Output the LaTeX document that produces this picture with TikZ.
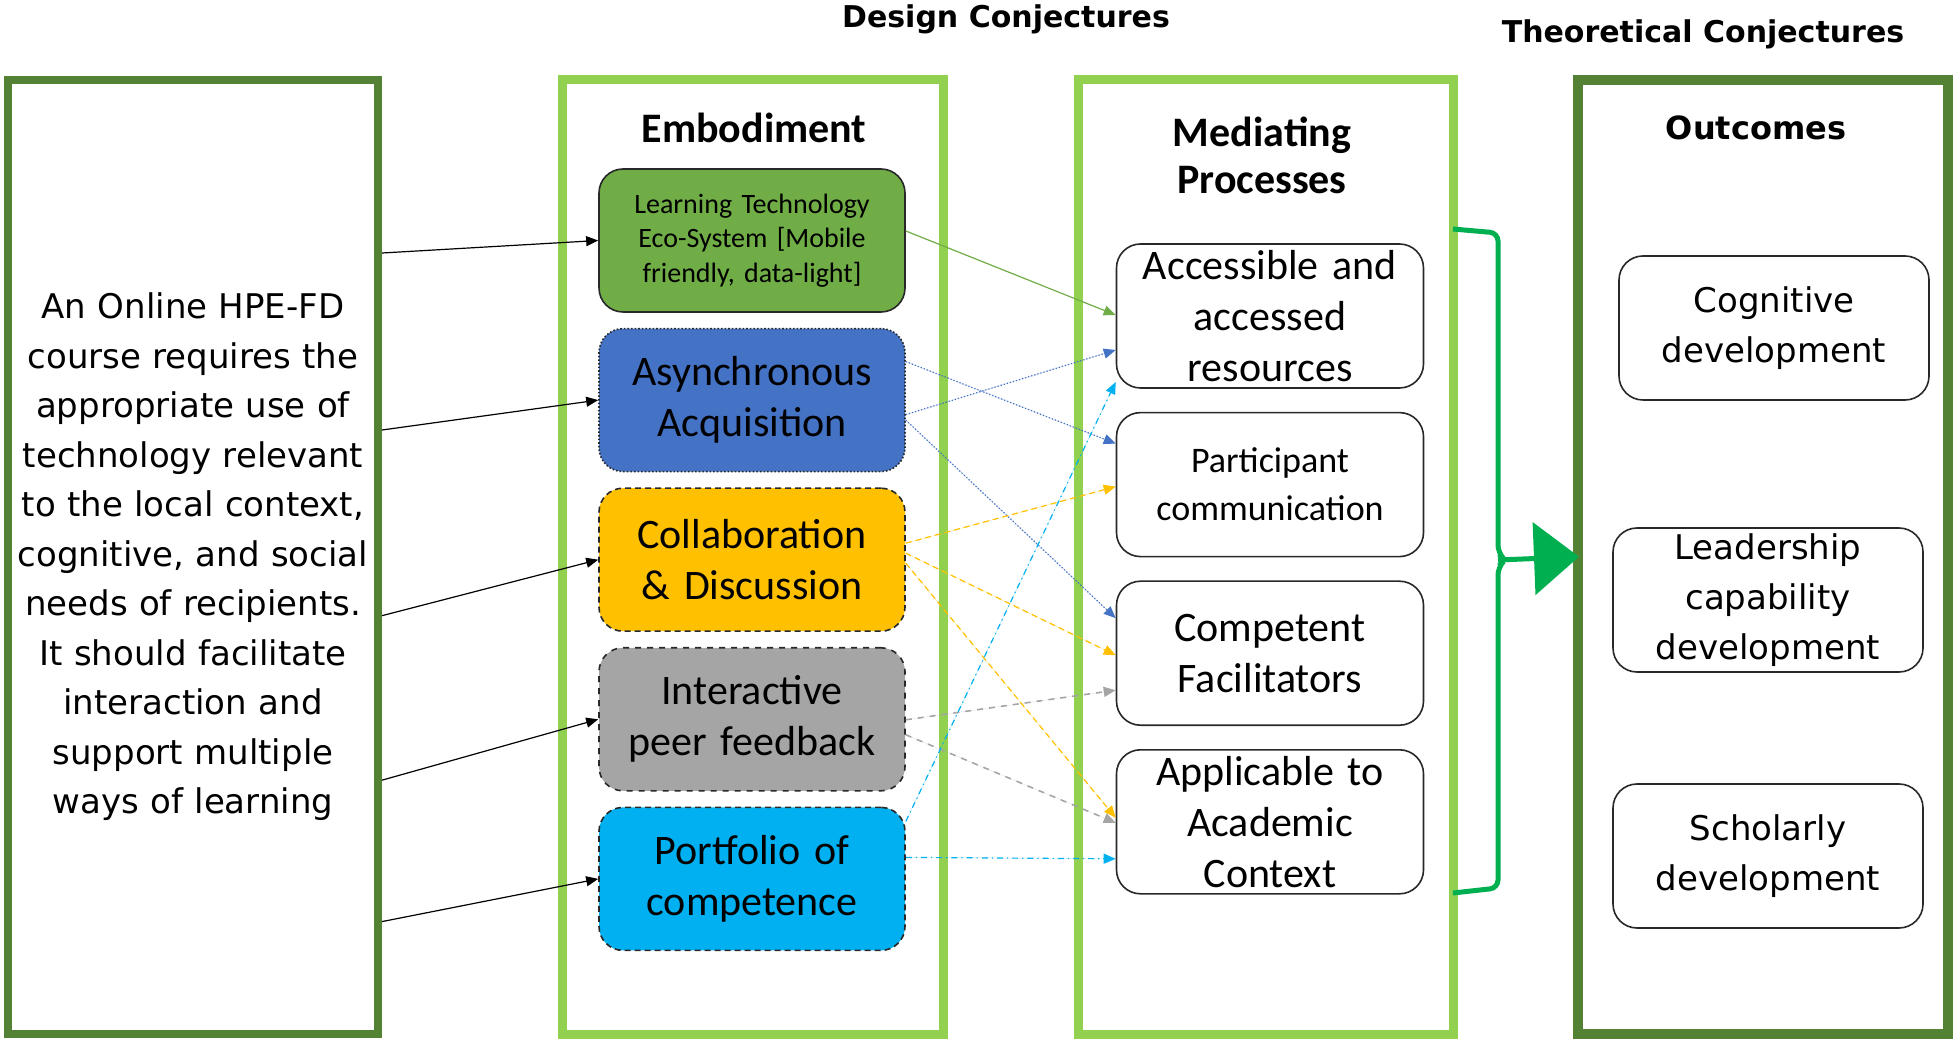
\documentclass[tikz,border=0pt]{standalone}
\usepackage{fontspec}
\setmainfont{Carlito}
\newfontfamily\verd{DejaVu Sans}
\usetikzlibrary{arrows.meta,positioning,calc}
\definecolor{colgreen}{RGB}{146,208,80}
\definecolor{darkgreen}{RGB}{84,130,53}
\definecolor{ltgreen}{RGB}{112,173,71}
\definecolor{ablue}{RGB}{68,114,196}
\definecolor{agold}{RGB}{255,192,0}
\definecolor{agray}{RGB}{165,165,165}
\definecolor{acyan}{RGB}{0,176,240}
\definecolor{bgreen}{RGB}{0,176,80}
\definecolor{edge}{RGB}{40,40,40}
\tikzset{
  frame/.style={draw=darkgreen, line width=4pt, fill=white, inner sep=0pt, align=center},
  colframe/.style={draw=colgreen, line width=4.5pt, minimum height=477pt, inner sep=0pt},
  ebox/.style={draw=edge, line width=0.8pt, rounded corners=12pt, minimum width=153pt, minimum height=71.5pt,
               text width=148pt, align=center, inner sep=0pt, font=\fontsize{21}{25.5}\selectfont},
  mbox/.style={ebox, minimum width=153.5pt, minimum height=72pt, fill=white},
  obox/.style={ebox, minimum width=155pt, minimum height=72pt, font=\verd\fontsize{17}{25}\selectfont},
  head/.style={align=center, font=\bfseries\fontsize{21}{23.5}\selectfont},
  title/.style={font=\verd\bfseries\fontsize{15}{18}\selectfont},
  arr/.style={-{Triangle[length=6pt,width=5pt]}, line width=0.6pt},
  garr/.style={arr, draw=ltgreen, fill=ltgreen},
  barr/.style={arr, draw=ablue, fill=ablue, densely dotted},
  yarr/.style={arr, draw=agold, fill=agold, densely dashed},
  karr/.style={arr, draw=agray, fill=agray, dashed, line width=0.8pt},
  carr/.style={arr, draw=acyan, fill=acyan, dash dot},
  brace/.style={draw=bgreen, line width=2.5pt, rounded corners=4pt},
  bigarr/.style={-{Triangle[length=22.5pt,width=36pt]}, draw=bgreen, fill=bgreen, line width=2.5pt, shorten >=-3pt}
}
\begin{document}
\begin{tikzpicture}[x=0.5pt, y=-0.5pt, node distance=7.5pt]
\useasboundingbox (0,0) rectangle (1960,1042);
% titles
\node[title] (design) at (1006,19) {Design Conjectures};
\node[title] (theory) at (1703,34) {Theoretical Conjectures};
% frames
\node[frame, minimum width=185pt, minimum height=477pt, text width=178pt,
      font=\verd\fontsize{17}{24.75}\selectfont] (intro) at (193,557)
  {An Online HPE-FD\\ course requires the\\ appropriate use of\\ technology relevant\\ to the local context,\\
   cognitive, and social\\ needs of recipients.\\ It should facilitate\\ interaction and\\ support multiple\\ ways of learning};
\node[colframe, minimum width=190.5pt] (embcol) at (752.5,557) {};
\node[colframe, minimum width=187.5pt] (medcol) at (1265.5,557) {};
\node[frame, line width=5pt, minimum width=185pt, minimum height=477pt] (outcol) at (1763,557) {};
% headers
\node[head] (embhead) at (754,128) {Embodiment};
\node[head] (medhead) at (1262,155) {Mediating\\Processes};
\node[title, font=\verd\bfseries\fontsize{16}{19}\selectfont] (outhead) at (1756,128) {Outcomes};
% embodiment
\node[ebox, fill=ltgreen, font=\fontsize{14}{17.4}\selectfont] (tech) at (752,240.5) {Learning Technology\\Eco-System [Mobile\\friendly, data-light]};
\node[ebox, fill=ablue, densely dotted, below=of tech] (async) {Asynchronous\\Acquisition};
\node[ebox, fill=agold, densely dashed, below=of async] (collab) {Collaboration\\\& Discussion};
\node[ebox, fill=agray, dashed, below=of collab] (peer) {Interactive\\peer feedback};
\node[ebox, fill=acyan, densely dashed, below=of peer] (folio) {Portfolio of\\competence};
% mediating processes
\node[mbox] (access) at (1270,316) {Accessible and\\accessed\\resources};
\node[mbox, below=11.5pt of access, font=\fontsize{18}{24}\selectfont] (comm) {Participant\\communication};
\node[mbox, below=11.5pt of comm] (facil) {Competent\\Facilitators};
\node[mbox, below=11.5pt of facil] (apply) {Applicable to\\Academic\\Context};
% outcomes
\node[obox] (cogn) at (1774,328) {Cognitive\\development};
\node[obox] (lead) at (1768,600) {Leadership\\capability\\development};
\node[obox] (schol) at (1768,856) {Scholarly\\development};
% course -> embodiment
\draw[arr] ($(intro.north east)!0.184!(intro.south east)$) -- (tech.west);
\draw[arr] ($(intro.north east)!0.368!(intro.south east)$) -- (async.west);
\draw[arr] ($(intro.north east)!0.561!(intro.south east)$) -- (collab.west);
\draw[arr] ($(intro.north east)!0.732!(intro.south east)$) -- (peer.west);
\draw[arr] ($(intro.north east)!0.879!(intro.south east)$) -- (folio.west);
% embodiment -> mediating processes
\draw[garr] ($(tech.east)+(0,-9.5)$) -- ($(access.west)+(0,-1)$);
\draw[barr] ($(async.east)+(0,-38.5)$) -- ($(comm.west)+(0,-41)$);
\draw[barr] ($(async.east)+(0,14.5)$) -- ($(access.west)+(0,34)$);
\draw[barr] ($(async.east)+(0,20)$) -- ($(facil.west)+(0,-35)$);
\draw[yarr] ($(collab.east)+(0,-16.5)$) -- ($(comm.west)+(0,2)$);
\draw[yarr] ($(collab.east)+(0,-6.5)$) -- ($(facil.west)+(0,2)$);
\draw[yarr] ($(collab.east)+(0,3.5)$) -- ($(apply.west)+(0,-4)$);
\draw[karr] ($(peer.east)+(0,0.5)$) -- ($(facil.west)+(0,37)$);
\draw[karr] ($(peer.east)+(0,15.5)$) -- ($(apply.west)+(0,1)$);
\draw[carr] ($(folio.east)+(0,-57.5)$) -- ($(access.west)+(0,66)$);
\draw[carr] ($(folio.east)+(0,-21.5)$) -- ($(apply.west)+(0,37)$);
% bracket -> outcomes
\draw[brace] (1453,229) -- (1498,233) -- (1498,553) -- (1505,560) -- (1498,567) -- (1498,888) -- (1453,893);
\coordinate (notch) at (1498,560);
\draw[bigarr] (notch) -- (outcol.west);
\end{tikzpicture}
\end{document}
